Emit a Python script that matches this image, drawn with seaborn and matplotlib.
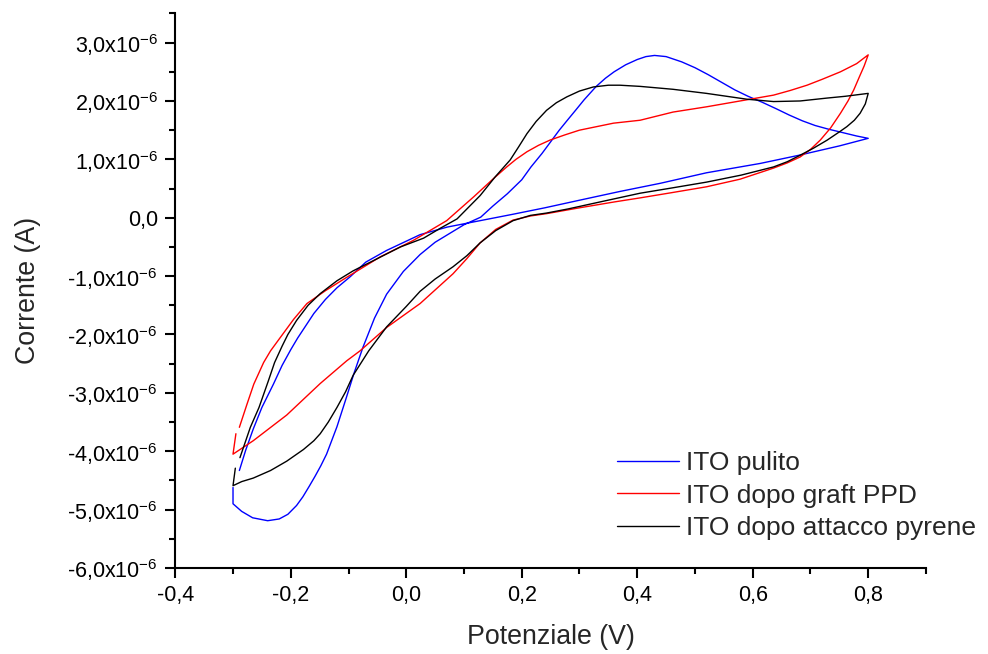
import numpy as np
import pandas as pd
import matplotlib
matplotlib.use("Agg")
import matplotlib.pyplot as plt
from matplotlib.ticker import MultipleLocator, FuncFormatter
import seaborn as sns

# ---------------- data (potential in V, current in microampere) ----------------
labels = ["ITO pulito", "ITO dopo graft PPD", "ITO dopo attacco pyrene"]
colors = ["#0000ff", "#ff0000", "#000000"]

blue_x = [-0.300, -0.300, -0.285, -0.266, -0.240, -0.220, -0.205, -0.190, -0.179, -0.168,
          -0.158, -0.148, -0.138, -0.120, -0.105, -0.090, -0.075, -0.055, -0.034, -0.005,
          0.024, 0.050, 0.075, 0.100, 0.129, 0.150, 0.175, 0.200, 0.216, 0.235,
          0.250, 0.265, 0.279, 0.294, 0.308, 0.329, 0.345, 0.360, 0.380, 0.400,
          0.415, 0.430, 0.450, 0.477, 0.500, 0.523, 0.546, 0.569, 0.592, 0.616,
          0.640, 0.663, 0.686, 0.708, 0.730, 0.755, 0.780, 0.800,
          0.750, 0.680, 0.613, 0.520, 0.440, 0.370, 0.300, 0.240, 0.185, 0.128,
          0.071, 0.024, -0.034, -0.070, -0.097, -0.120, -0.140, -0.160, -0.172, -0.188,
          -0.200, -0.215, -0.230, -0.250, -0.265, -0.278, -0.289]
blue_y = [-4.62, -4.90, -5.03, -5.14, -5.19, -5.16, -5.08, -4.93, -4.78, -4.60,
          -4.43, -4.25, -4.05, -3.58, -3.12, -2.65, -2.22, -1.72, -1.31, -0.92,
          -0.63, -0.42, -0.27, -0.12, 0.01, 0.20, 0.41, 0.65, 0.87, 1.10,
          1.30, 1.50, 1.67, 1.85, 2.02, 2.25, 2.39, 2.50, 2.62, 2.71,
          2.76, 2.78, 2.76, 2.67, 2.57, 2.45, 2.32, 2.19, 2.08, 1.98,
          1.87, 1.76, 1.66, 1.58, 1.52, 1.46, 1.40, 1.36,
          1.23, 1.07, 0.93, 0.77, 0.59, 0.45, 0.30, 0.17, 0.06, -0.05,
          -0.16, -0.29, -0.56, -0.76, -1.01, -1.20, -1.40, -1.64, -1.82, -2.06,
          -2.26, -2.53, -2.85, -3.25, -3.62, -3.98, -4.33]

red_x = [-0.295, -0.300, -0.265, -0.207, -0.149, -0.103, -0.080, -0.034, 0.024, 0.081,
         0.105, 0.128, 0.155, 0.185, 0.215, 0.243, 0.300, 0.360, 0.405, 0.460,
         0.520, 0.578, 0.636, 0.660, 0.682, 0.700, 0.717, 0.735, 0.752, 0.765,
         0.775, 0.785, 0.793, 0.800,
         0.780, 0.752, 0.720, 0.694, 0.665, 0.636, 0.578, 0.520, 0.462, 0.405,
         0.359, 0.300, 0.275, 0.249, 0.229, 0.209, 0.190, 0.174, 0.151, 0.117,
         0.070, 0.012, -0.045, -0.103, -0.140, -0.172, -0.195, -0.218, -0.235, -0.247,
         -0.264, -0.276, -0.289]
red_y = [-3.70, -4.05, -3.82, -3.38, -2.84, -2.45, -2.28, -1.88, -1.47, -0.96,
         -0.70, -0.43, -0.20, -0.04, 0.03, 0.07, 0.17, 0.27, 0.34, 0.43,
         0.53, 0.66, 0.85, 0.94, 1.04, 1.17, 1.33, 1.54, 1.79, 2.00,
         2.19, 2.42, 2.60, 2.79,
         2.64, 2.50, 2.37, 2.27, 2.18, 2.10, 2.00, 1.90, 1.81, 1.67,
         1.62, 1.50, 1.42, 1.33, 1.24, 1.13, 1.00, 0.87, 0.67, 0.36,
         -0.05, -0.39, -0.67, -1.02, -1.25, -1.47, -1.74, -2.05, -2.28, -2.48,
         -2.85, -3.20, -3.59]

black_x = [-0.296, -0.300, -0.285, -0.265, -0.235, -0.207, -0.178, -0.160, -0.149, -0.135,
           -0.120, -0.105, -0.092, -0.065, -0.034, 0.000, 0.024, 0.050, 0.081, 0.105,
           0.128, 0.155, 0.185, 0.215, 0.243, 0.280, 0.340, 0.405, 0.460, 0.520,
           0.580, 0.636, 0.660, 0.682, 0.705, 0.729, 0.750, 0.763, 0.776, 0.786,
           0.795, 0.800,
           0.760, 0.729, 0.682, 0.636, 0.590, 0.520, 0.462, 0.405, 0.370, 0.350,
           0.324, 0.300, 0.278, 0.260, 0.243, 0.225, 0.209, 0.195, 0.180, 0.154,
           0.128, 0.088, 0.059, 0.030, -0.010, -0.050, -0.092, -0.120, -0.149, -0.170,
           -0.190, -0.205, -0.215, -0.228, -0.239, -0.255, -0.270, -0.288]
black_y = [-4.29, -4.59, -4.52, -4.46, -4.33, -4.17, -3.97, -3.82, -3.70, -3.50,
           -3.25, -2.98, -2.70, -2.28, -1.87, -1.52, -1.26, -1.05, -0.84, -0.65,
           -0.43, -0.22, -0.05, 0.04, 0.08, 0.15, 0.28, 0.42, 0.51, 0.61,
           0.73, 0.87, 0.96, 1.07, 1.19, 1.33, 1.47, 1.56, 1.67, 1.79,
           1.95, 2.13,
           2.08, 2.05, 2.00, 1.99, 2.03, 2.13, 2.20, 2.25, 2.27, 2.27,
           2.24, 2.17, 2.07, 1.97, 1.84, 1.65, 1.44, 1.22, 0.99, 0.70,
           0.38, -0.02, -0.18, -0.35, -0.50, -0.70, -0.91, -1.08, -1.30, -1.50,
           -1.76, -2.00, -2.20, -2.48, -2.80, -3.25, -3.59, -4.11]

# ---------------- style ----------------
sns.set_style("ticks")
plt.rcParams["font.family"] = ["Liberation Sans", "DejaVu Sans"]
plt.rcParams["mathtext.fontset"] = "custom"
plt.rcParams["mathtext.rm"] = "Liberation Sans"
plt.rcParams["mathtext.it"] = "Liberation Sans:italic"
plt.rcParams["mathtext.bf"] = "Liberation Sans:bold"

fig = plt.figure(figsize=(9.88, 6.54), dpi=100)
ax = fig.add_axes([0.1774, 0.1315, 0.9372 - 0.1774, 0.9795 - 0.1315])

series = [(blue_x, blue_y), (red_x, red_y), (black_x, black_y)]
for (xs, ys), lab, col in zip(series, labels, colors):
    df = pd.DataFrame({"x": xs, "y": np.array(ys) * 1e-6})
    sns.lineplot(data=df, x="x", y="y", sort=False, estimator=None,
                 color=col, linewidth=1.0, label=lab, ax=ax)

ax.set_xlim(-0.4, 0.9)
ax.set_ylim(-6e-6, 3.5e-6)

ax.xaxis.set_major_locator(MultipleLocator(0.2))
ax.xaxis.set_minor_locator(MultipleLocator(0.1))
ax.yaxis.set_major_locator(MultipleLocator(1e-6))
ax.yaxis.set_minor_locator(MultipleLocator(0.5e-6))


def xfmt(v, pos):
    return f"{v:.1f}".replace(".", ",").replace("-0,0", "0,0")


def yfmt(v, pos):
    m = round(v * 1e6, 1)
    if abs(m) < 1e-9:
        return "0,0"
    return f"{m:.1f}".replace(".", ",") + r"x10$^{-6}$"


ax.xaxis.set_major_formatter(FuncFormatter(xfmt))
ax.yaxis.set_major_formatter(FuncFormatter(yfmt))

for side in ["top", "right"]:
    ax.spines[side].set_visible(False)
for side in ["left", "bottom"]:
    ax.spines[side].set_linewidth(1.5)
    ax.spines[side].set_color("black")

ax.tick_params(axis="both", which="major", direction="out", length=7.5, width=1.5,
               labelsize=15.5, colors="black", pad=5)
ax.tick_params(axis="both", which="minor", direction="out", length=4, width=1.5,
               colors="black")

ax.set_xlabel("Potenziale (V)", fontsize=19.3, labelpad=13)
ax.set_ylabel("Corrente (A)", fontsize=19.3, labelpad=19)

leg = ax.legend(loc="upper left", bbox_to_anchor=(617 / 988, 1 - 451 / 654),
                bbox_transform=fig.transFigure, frameon=False, fontsize=19,
                handlelength=2.35, handletextpad=0.28, labelspacing=0.33,
                borderpad=0, borderaxespad=0)
for h in leg.get_lines():
    h.set_linewidth(1.0)

fig.savefig("out.png", dpi=100)
